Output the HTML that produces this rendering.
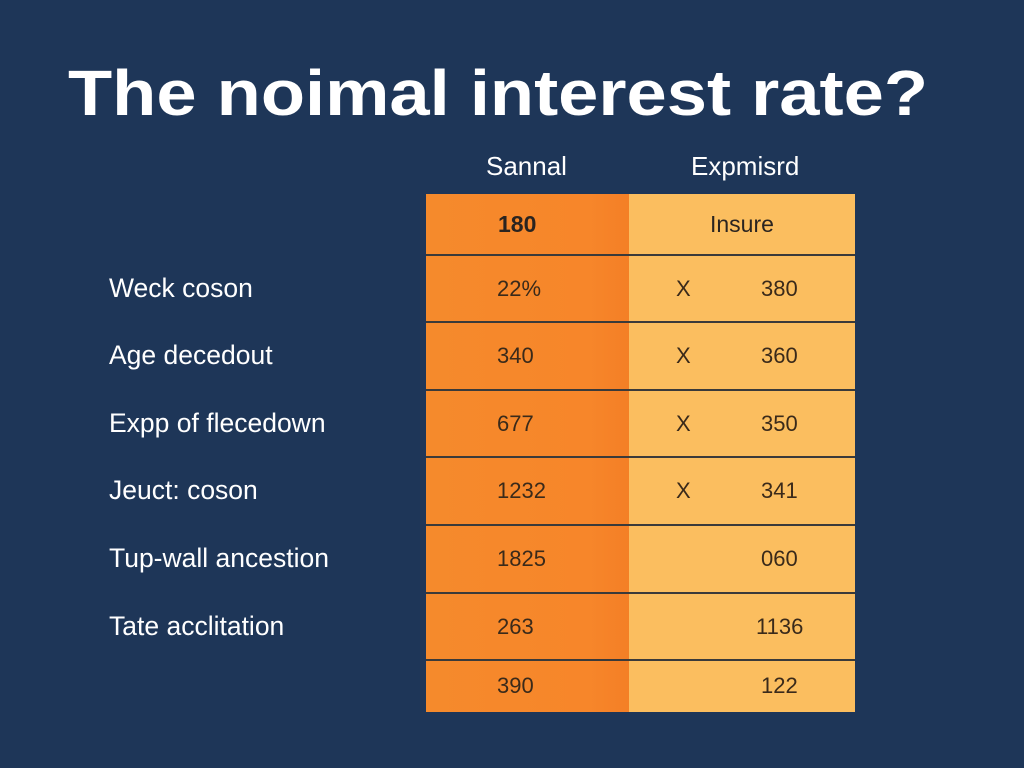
<!DOCTYPE html>
<html><head><meta charset="utf-8"><style>
body{margin:0;width:1024px;height:768px;background:#1e3658;font-family:"Liberation Sans",sans-serif;position:relative;overflow:hidden}
.a{position:absolute;white-space:nowrap}
h1{position:absolute;left:68px;top:56px;margin:0;font-size:64px;font-weight:bold;color:#fff;transform:scaleX(1.13);transform-origin:0 0;white-space:nowrap}
.hdr{color:#fff;font-size:26px;top:151px}
.lbl{color:#fff;font-size:26.5px;left:109px}
.c{font-size:22px;color:#3a2a1a}
.line{position:absolute;left:426px;width:429px;height:2px;background:#3a3a3a}
</style></head><body>
<h1>The noimal interest rate?</h1>
<div class="a hdr" style="left:486px">Sannal</div>
<div class="a hdr" style="left:691px">Expmisrd</div>
<div class="a" style="left:426px;top:194px;width:203px;height:518px;background:linear-gradient(90deg,#f58a2c,#f7862a 80%,#f47f26)"></div>
<div class="a" style="left:629px;top:194px;width:226px;height:518px;background:#fbbe5f"></div>
<div id="rows"></div>
<script>
const labels=["Weck coson","Age decedout","Expp of flecedown","Jeuct: coson","Tup-wall ancestion","Tate acclitation",""];
const left=["22%","340","677","1232","1825","263","390"];
const marks=["X","X","X","X","","",""];
const right=["380","360","350","341","060","1136","122"];
const rowTops=[255,322,390,457,525,593,660];
const r=document.getElementById('rows');
function add(cls,txt,x,y,extra){const d=document.createElement('div');d.className='a '+cls;d.textContent=txt;d.style.left=x+'px';d.style.top=y+'px';if(extra)d.style.cssText+=extra;r.appendChild(d);return d;}
let h=add('c','180',498,211,'font-weight:bold;font-size:23px;color:#2a2420');


h=add('c','Insure',710,211,'font-size:23px;color:#2a2420');


for(let i=0;i<rowTops.length;i++){
 const t=rowTops[i];
 const ln=add('line','',426,t-1,'');
 
 
 const nh=(i<6?rowTops[i+1]:712)-t;
 const cy=t+nh/2-13;
 if(labels[i]){const l=add('lbl',labels[i],109,cy-3,'');
 
 }
 const a=add('c',left[i],497,cy,'');
 
 
 if(marks[i]){const m=add('c',marks[i],676,cy,'');
 
 }
 const b=add('c',right[i],right[i].length>3?756:761,cy,'');
 
 
}
</script>
</body></html>
